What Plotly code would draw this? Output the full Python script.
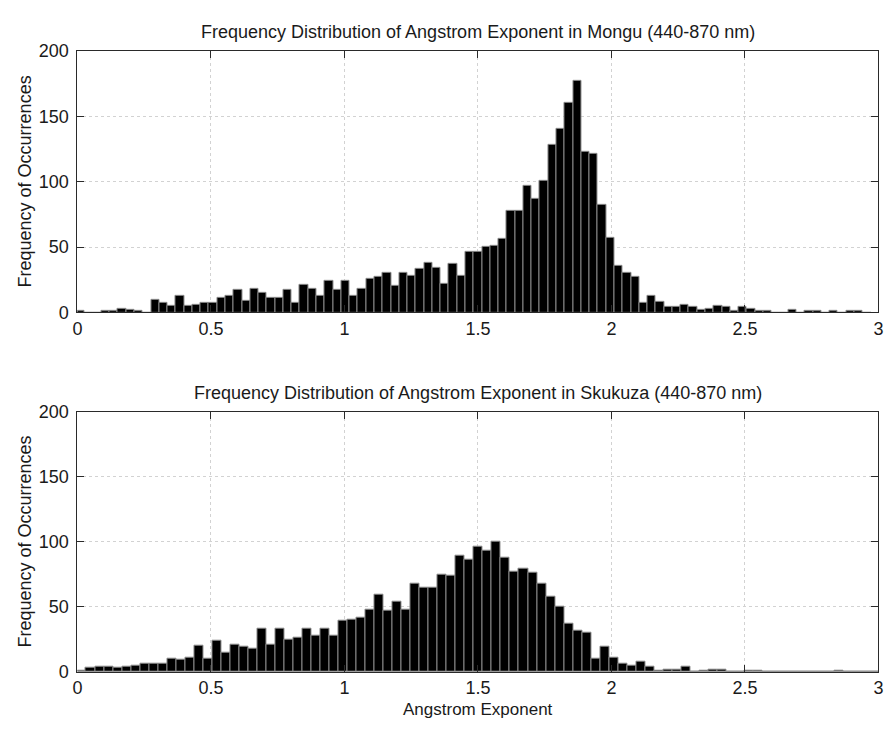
import numpy as np
import plotly.graph_objects as go

# ---------------- data ----------------
mongu_counts = [
    1, 0, 0, 1, 1, 3, 2, 1, 0, 10,
    7, 5, 13, 5, 6, 7, 7, 11, 13, 17,
    9, 18, 15, 11, 11, 17, 7, 21, 18, 13,
    24, 17, 24, 13, 18, 26, 27, 30, 20, 30,
    28, 33, 38, 34, 22, 37, 28, 46, 46, 50,
    51, 56, 78, 78, 97, 87, 101, 128, 140, 160,
    177, 123, 121, 82, 57, 36, 30, 27, 7, 13,
    8, 4, 4, 6, 4, 2, 3, 5, 4, 1,
    4, 3, 1, 1, 0, 0, 2, 0, 1, 1,
    0, 1, 0, 1, 1, 0,
]
mongu_bin_start = -0.0037
mongu_bin_width = 0.0310

skukuza_counts = [
    1, 3, 4, 4, 3, 4, 5, 6, 6, 6,
    10, 9, 11, 20, 10, 24, 15, 21, 19, 18,
    33, 21, 33, 25, 26, 33, 28, 33, 28, 39,
    40, 42, 48, 59, 47, 54, 48, 68, 65, 65,
    75, 74, 89, 86, 96, 93, 100, 88, 77, 79,
    76, 68, 58, 50, 37, 32, 30, 10, 19, 11,
    6, 5, 8, 4, 1, 2, 2, 4, 0, 1,
    2, 2, 0, 0, 1, 1, 0, 0, 0, 0,
    0, 0, 0, 0, 1, 0, 0, 0, 0,
]
skukuza_bin_start = -0.002
skukuza_bin_width = 0.03379

x_tick_vals = [0, 0.5, 1, 1.5, 2, 2.5, 3]
x_tick_text = ["0", "0.5", "1", "1.5", "2", "2.5", "3"]
y_tick_vals = [0, 50, 100, 150, 200]
y_tick_text = ["0", "50", "100", "150", "200"]

title_top = "Frequency Distribution of Angstrom Exponent in Mongu (440-870 nm)"
title_bottom = "Frequency Distribution of Angstrom Exponent in Skukuza (440-870 nm)"
x_label = "Angstrom Exponent"
y_label = "Frequency of Occurrences"

# ---------------- figure ----------------
W, H = 890, 731
FS = 18

def centers(start, width, n):
    return start + width * (np.arange(n) + 0.5)

fig = go.Figure()
bar_style = dict(marker=dict(color="black", line=dict(color="#8a8a8a", width=1)),
                 showlegend=False, hoverinfo="x+y")
fig.add_trace(go.Bar(x=centers(mongu_bin_start, mongu_bin_width, len(mongu_counts)),
                     y=mongu_counts, width=mongu_bin_width,
                     xaxis="x", yaxis="y", **bar_style))
fig.add_trace(go.Bar(x=centers(skukuza_bin_start, skukuza_bin_width, len(skukuza_counts)),
                     y=skukuza_counts, width=skukuza_bin_width,
                     xaxis="x2", yaxis="y2", **bar_style))

x_dom = [73.3 / W, 883.3 / W]
top_dom = [1 - 311.0 / H, 1 - 42.0 / H]
bot_dom = [1 - 680.5 / H, 1 - 413.0 / H]

axis_common = dict(
    showline=True, linecolor="#2a2a2a", linewidth=1, mirror="ticks",
    ticks="inside", ticklen=7, tickcolor="#2a2a2a", tickwidth=1,
    showgrid=True, gridcolor="#d2d2d2", griddash="dot", gridwidth=1,
    zeroline=False, fixedrange=True,
)

xa = dict(axis_common, range=[0, 3], tickvals=x_tick_vals, ticktext=x_tick_text,
          domain=x_dom, ticklabelstandoff=0)
ya = dict(axis_common, range=[0, 200], tickvals=y_tick_vals, ticktext=y_tick_text,
          ticklabelstandoff=4)

fig.update_layout(
    width=W, height=H,
    margin=dict(l=0, r=0, t=0, b=0),
    paper_bgcolor="white", plot_bgcolor="white",
    font=dict(family="Liberation Sans, Arial, sans-serif", size=FS, color="#1a1a1a"),
    bargap=0,
    xaxis=dict(xa, anchor="y"),
    yaxis=dict(ya, domain=top_dom, anchor="x"),
    xaxis2=dict(xa, anchor="y2"),
    yaxis2=dict(ya, domain=bot_dom, anchor="x2"),
)

xc = (x_dom[0] + x_dom[1]) / 2
ann = [
    dict(text=title_top, x=xc, y=1 - 23.0 / H, yanchor="middle", size=FS),
    dict(text=title_bottom, x=xc, y=1 - 394.0 / H, yanchor="middle", size=FS),
    dict(text=x_label, x=xc, y=0.0, yanchor="bottom", size=17),
    dict(text=y_label, x=20.0 / W, y=(top_dom[0] + top_dom[1]) / 2, textangle=-90,
         yanchor="middle", size=FS),
    dict(text=y_label, x=20.0 / W, y=(bot_dom[0] + bot_dom[1]) / 2, textangle=-90,
         yanchor="middle", size=FS),
]
for a in ann:
    sz = a.pop("size")
    fig.add_annotation(xref="paper", yref="paper", showarrow=False,
                       xanchor="center", font=dict(size=sz, color="#1a1a1a"), **a)

fig.write_html("out.html")
